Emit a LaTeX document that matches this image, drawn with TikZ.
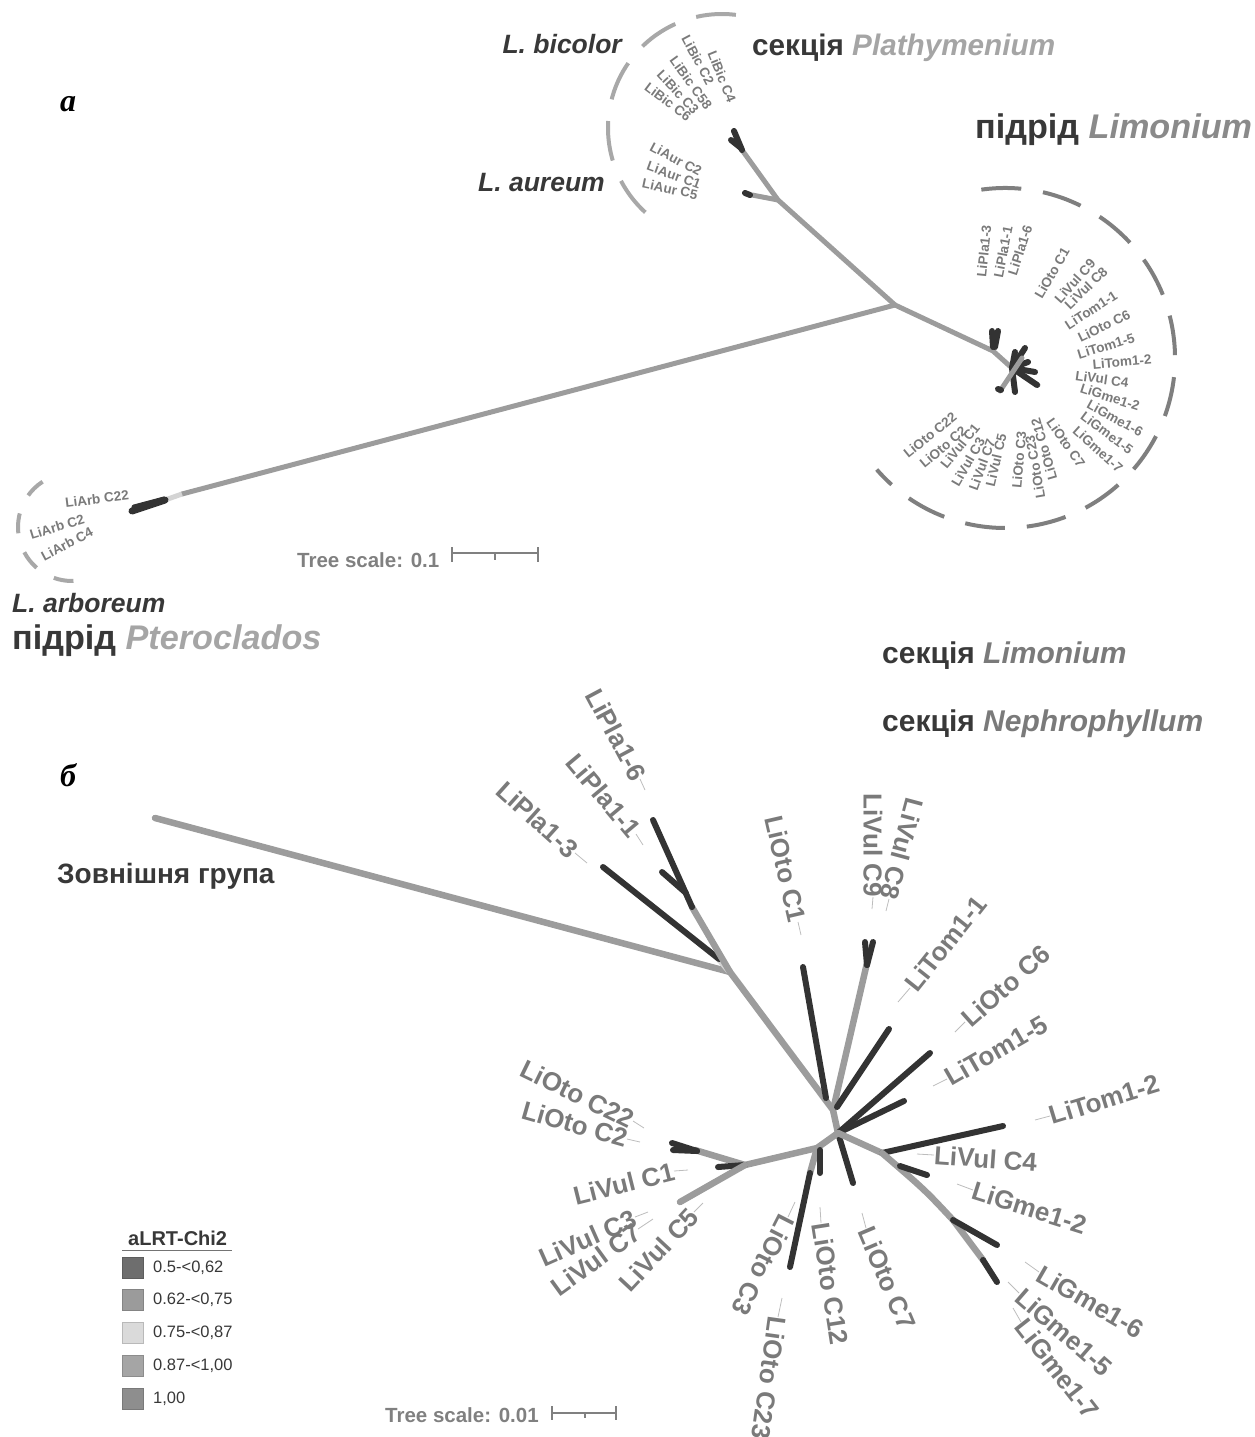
\documentclass[tikz,border=0pt]{standalone}
\usepackage{fontspec}
\setmainfont{Liberation Sans}
\newfontfamily\panelfont{Liberation Serif}
\usetikzlibrary{calc}

\definecolor{branchgray}{HTML}{9C9C9C}
\definecolor{branchdark}{HTML}{333333}
\definecolor{branchpale}{HTML}{D4D4D4}
\definecolor{leafgray}{HTML}{7A7A7A}
\definecolor{leadergray}{HTML}{BDBDBD}
\definecolor{titledark}{HTML}{383838}
\definecolor{titlelight}{HTML}{A5A5A5}
\definecolor{titlemid}{HTML}{8A8A8A}
\definecolor{arclight}{HTML}{A8A8A8}
\definecolor{arcmid}{HTML}{7F7F7F}
\definecolor{scalegray}{HTML}{808080}
\definecolor{legone}{HTML}{6E6E6E}
\definecolor{legtwo}{HTML}{9B9B9B}
\definecolor{legthree}{HTML}{DADADA}
\definecolor{legfour}{HTML}{A5A5A5}
\definecolor{legfive}{HTML}{8E8E8E}

\newcommand{\setfs}[1]{\fontsize{#1}{#1}\selectfont}

\begin{document}
\begin{tikzpicture}[x=1pt, y=-1pt,
  graybr/.style={draw=branchgray, line width=#1, line cap=round},
  graybr/.default=5pt,
  darkbr/.style={draw=branchdark, line width=#1, line cap=round},
  darkbr/.default=6pt,
  palebr/.style={draw=branchpale, line width=#1},
  palebr/.default=5pt,
  leafa/.style={font=\bfseries\setfs{13.5}, text=leafgray, inner sep=0pt},
  leafb/.style={font=\bfseries\setfs{26}, text=leafgray, inner sep=0pt},
  leader/.style={draw=leadergray, line width=0.8pt},
  arcdash/.style={line width=4pt, dash pattern=on 40pt off 22pt},
  title/.style={font=\bfseries\setfs{#1}, text=titledark, inner sep=0pt},
  species/.style={font=\bfseries\itshape\setfs{26.5}, text=titledark, inner sep=0pt},
  scalebar/.style={draw=scalegray, line width=2pt},
  legbox/.style={minimum size=21pt, inner sep=0pt, line width=1pt},
  legtext/.style={font=\setfs{16.5}, text=titledark, inner sep=0pt}]

\useasboundingbox (0,0) rectangle (1255,1437);

%%% --- Panel a: tree --- %%%
\coordinate (arbtip) at (132,511);
\coordinate (arbpale) at (165,500);
\coordinate (arbgray) at (182,494);
\coordinate (ra) at (895,305);
\coordinate (bicj) at (778,200);
\coordinate (bicend) at (742,150);
\coordinate (aurend) at (752,195);
\coordinate (lim1) at (993,351);
\coordinate (lim2) at (1012,368);
\coordinate (lim3) at (1038,385);

\draw[graybr] (arbgray) -- (ra);
\draw[palebr] (arbpale) -- (arbgray);
\draw[darkbr=7pt] (arbtip) -- (arbpale);
\draw[darkbr=5pt] (134,507) -- (164,499);

\draw[graybr] (ra) -- (bicj) -- (bicend);
\draw[graybr] (bicj) -- (aurend);
\draw[darkbr] (bicend) -- (734,131);
\draw[darkbr] (741,148) -- (731,140);
\draw[darkbr] (750,195) -- (745,193);

\draw[graybr] (ra) -- (lim1) -- (lim2) -- (lim3);
\draw[darkbr] (993,347) -- (992,331);
\draw[darkbr] (995,347) -- (998,331);
\foreach \ex/\ey in {1015/352, 1025/348, 1028/362, 1035/372, 1037/385, 1015/392}
  \draw[darkbr] (lim2) -- (\ex,\ey);
\draw[graybr] (1022,358) -- (1000,391);
\draw[darkbr] (1001,390) -- (998,389);

%%% --- Panel a: leaf labels --- %%%
\foreach \cx/\cy/\ang/\txt [count=\i] in {
  722/77/-68/LiBic C4, 698/60/-62/LiBic C2, 691/83/-54/LiBic C58,
  678/92/-47/LiBic C3, 668/102/-37/LiBic C6,
  676/159/-28/LiAur C2, 674/175/-20/LiAur C1, 670/189/-12/LiAur C5,
  97/499/7/LiArb C22, 57/527/17/LiArb C2, 67/544/28/LiArb C4}
  \node[leafa, rotate=\ang] (outa\i) at (\cx,\cy) {\txt};

\foreach \cx/\cy/\ang/\txt [count=\i] in {
  984/251/84/LiPla1-3, 1003/252/79/LiPla1-1, 1020/250/72/LiPla1-6,
  1052/273/60/LiOto C1, 1075/281/48/LiVul C9, 1086/288/44/LiVul C8,
  1091/310/33/LiTom1-1, 1104/326/26/LiOto C6, 1106/346/17/LiTom1-5,
  1122/362/5/LiTom1-2, 1102/379/-8/LiVul C4, 1110/397/-18/LiGme1-2,
  1115/418/-29/LiGme1-6, 1107/433/-37/LiGme1-5, 1098/449/-42/LiGme1-7,
  1066/443/-55/LiOto C7, 1044/449/106/LiOto C12, 1035/467/100/LiOto C23,
  1019/460/85/LiOto C3, 996/460/77/LiVul C5, 982/465/70/LiVul C7,
  968/462/60/LiVul C3, 960/446/51/LiVul C1, 943/447/40/LiOto C2,
  930/435/39/LiOto C22}
  \node[leafa, rotate=\ang] (lima\i) at (\cx,\cy) {\txt};

%%% --- Panel a: dashed brackets --- %%%
\coordinate (bicc) at (722,128);
\coordinate (arbc) at (72,527);
\coordinate (limc) at (1005,358);
\draw[arcdash, draw=arclight] ([shift={(-83:114)}]bicc) arc[start angle=-83, end angle=-228, radius=114];
\draw[arcdash, draw=arclight, dash pattern=on 20pt off 20pt] ([shift={(-123:54)}]arbc) arc[start angle=-123, end angle=-287, radius=54];
\draw[arcdash, draw=arcmid] ([shift={(-98:170)}]limc) arc[start angle=-98, end angle=139, radius=170];

%%% --- Panel a: titles --- %%%
\node[font=\panelfont\bfseries\itshape\setfs{32}, text=black, inner sep=0pt, anchor=base] (pa) at (68,111) {а};
\node[species, anchor=base east] (bicolor) at (622,53) {L. bicolor};
\node[species, anchor=base east] (aureum) at (605,191) {L. aureum};
\node[species, anchor=base west] (arboreum) at (12,612) {L. arboreum};
\node[title=29.7, anchor=base west] (secplat) at (752,56) {секція \textcolor{titlelight}{\itshape Plathymenium}};
\node[title=34.2, anchor=base west] (sublim) at (975,138) {підрід \textcolor{titlemid}{\itshape Limonium}};
\node[title=34.2, anchor=base west] (subpter) at (12,649) {підрід \textcolor{titlelight}{\itshape Pteroclados}};
\node[title=30, anchor=base west] (seclim) at (882,663) {секція \textcolor{leafgray}{\itshape Limonium}};
\node[title=30, anchor=base west] (secneph) at (882,731) {секція \textcolor{leafgray}{\itshape Nephrophyllum}};

%%% --- Panel a: scale --- %%%
\node[font=\bfseries\setfs{20.5}, text=scalegray, inner sep=0pt, anchor=base west] (scalea) at (297,567) {Tree scale: 0.1};
\draw[scalebar] (452,553) -- (538,553);
\draw[scalebar] (452,547) -- (452,562);
\draw[scalebar] (538,547) -- (538,562);
\draw[scalebar] (495,553) -- (495,560);

%%% --- Panel b: tree --- %%%
\coordinate (outer) at (155,818);
\coordinate (jb1) at (730,972);
\coordinate (jpla) at (692,907);
\coordinate (jb2) at (833,1110);
\coordinate (jb3) at (838,1133);
\coordinate (jb4) at (882,1153);
\coordinate (jb5) at (953,1220);
\coordinate (jb6) at (983,1260);
\coordinate (jb7) at (817,1148);
\coordinate (jb8) at (745,1165);

\draw[graybr=6.5pt] (outer) -- (jb1);
\draw[palebr=6.5pt] (jb1) -- (719,959);
\draw[darkbr] (719,959) -- (603,867);
\draw[graybr=6.5pt] (jb1) -- (jpla);
\draw[darkbr] (jpla) -- (653,820);
\draw[darkbr] (686,893) -- (662,872);

\draw[graybr=6.5pt] (jb1) -- (jb2) -- (jb3);
\draw[darkbr] (826,1098) -- (803,967);
\draw[graybr=6.5pt] (jb2) -- (867,963);
\draw[darkbr] (867,965) -- (865,942);
\draw[darkbr] (867,965) -- (873,942);
\draw[darkbr] (837,1107) -- (889,1029);
\draw[darkbr] (jb3) -- (930,1053);
\draw[darkbr] (jb3) -- (904,1101);
\draw[darkbr] (jb3) -- (853,1183);

\draw[graybr=6.5pt] (jb3) -- (jb4);
\draw[darkbr] (jb4) -- (1003,1126);
\draw[graybr=6.5pt] (jb4) .. controls (925,1190) .. (jb5) -- (jb6);
\draw[darkbr] (900,1166) -- (927,1175);
\draw[darkbr] (jb5) -- (997,1245);
\draw[darkbr] (jb6) -- (997,1282);

\draw[graybr=6.5pt] (jb3) -- (jb7) -- (jb8);
\draw[graybr=6.5pt] (jb7) -- (810,1173);
\draw[darkbr] (810,1173) -- (790,1267);
\draw[darkbr] (820,1150) -- (820,1173);
\draw[graybr=6.5pt] (jb8) -- (695,1150);
\draw[darkbr] (697,1151) -- (672,1143);
\draw[darkbr] (697,1151) -- (673,1150);
\draw[darkbr] (jb8) -- (718,1167);
\draw[graybr=6.5pt] (jb8) -- (680,1202);

%%% --- Panel b: leaf labels with leaders --- %%%
\foreach \px/\py/\qx/\qy/\ang/\anc/\txt [count=\i] in {
  640/779/645/790/-62/east/LiPla1-6, 636/834/643/845/-50/east/LiPla1-1,
  575/853/587/863/-42/east/LiPla1-3, 798/922/801/935/-77/east/LiOto C1,
  873/897/872/909/-90/east/LiVul C9, 889/899/886/911/-105/east/LiVul C8,
  910/988/898/1002/51.5/west/LiTom1-1, 965/1022/955/1032/41.6/west/LiOto C6,
  947/1079/933/1086/30/west/LiTom1-5, 1050/1116/1035/1120/17/west/LiTom1-2,
  934/1155/917/1154/-4/west/LiVul C4, 973/1190/957/1184/-17.5/west/LiGme1-2,
  1039/1272/1025/1262/-30/west/LiGme1-6, 1019/1293/1008/1282/-41/west/LiGme1-5,
  1021/1322/1013/1308/-52/west/LiGme1-7, 866/1228/862/1213/-67/west/LiOto C7,
  821/1223/820/1207/-81/west/LiOto C12, 788/1217/795/1202/-117/west/LiOto C3,
  778/1317/782/1298/-98/west/LiOto C23, 633/1121/644/1128/-26/east/LiOto C22,
  627/1139/640/1142/-16/east/LiOto C2, 674/1171/688/1170/14/east/LiVul C1,
  635/1217/648/1212/24/east/LiVul C3, 638/1229/653/1219/36/east/LiVul C7,
  694/1212/703/1203/47/east/LiVul C5}
{
  \coordinate (lp\i) at (\px,\py);
  \coordinate (lq\i) at (\qx,\qy);
  \node[leafb, rotate=\ang, anchor=\anc] (leafb\i) at (lp\i) {\txt};
  \draw[leader] (lp\i) -- (lq\i);
}

%%% --- Panel b: titles --- %%%
\node[font=\panelfont\bfseries\itshape\setfs{32}, text=black, inner sep=0pt, anchor=base] (pb) at (68,786) {б};
\node[title=28, anchor=base west] (outgroup) at (57,883) {Зовнішня група};

%%% --- Panel b: legend --- %%%
\node[title=20, anchor=base west] (legtitle) at (128,1245) {aLRT-Chi2};
\draw[draw=titledark!70, line width=1pt] (122,1250) -- (232,1250);
\foreach \yy/\col/\txt [count=\i] in {
  1268/legone/{0.5-<0,62}, 1300/legtwo/{0.62-<0,75}, 1333/legthree/{0.75-<0,87},
  1366/legfour/{0.87-<1,00}, 1399/legfive/{1,00}}
{
  \node[legbox, fill=\col, draw=\col!85!black] (legbox\i) at (132.5,\yy) {};
  \node[legtext, anchor=west] (legtxt\i) at (153,\yy) {\txt};
}

%%% --- Panel b: scale --- %%%
\node[font=\bfseries\setfs{20.5}, text=scalegray, inner sep=0pt, anchor=base west] (scaleb) at (385,1422) {Tree scale: 0.01};
\draw[scalebar] (552,1413) -- (616,1413);
\draw[scalebar] (552,1406) -- (552,1420);
\draw[scalebar] (616,1406) -- (616,1420);
\draw[scalebar] (585,1413) -- (585,1418);

\end{tikzpicture}
\end{document}
